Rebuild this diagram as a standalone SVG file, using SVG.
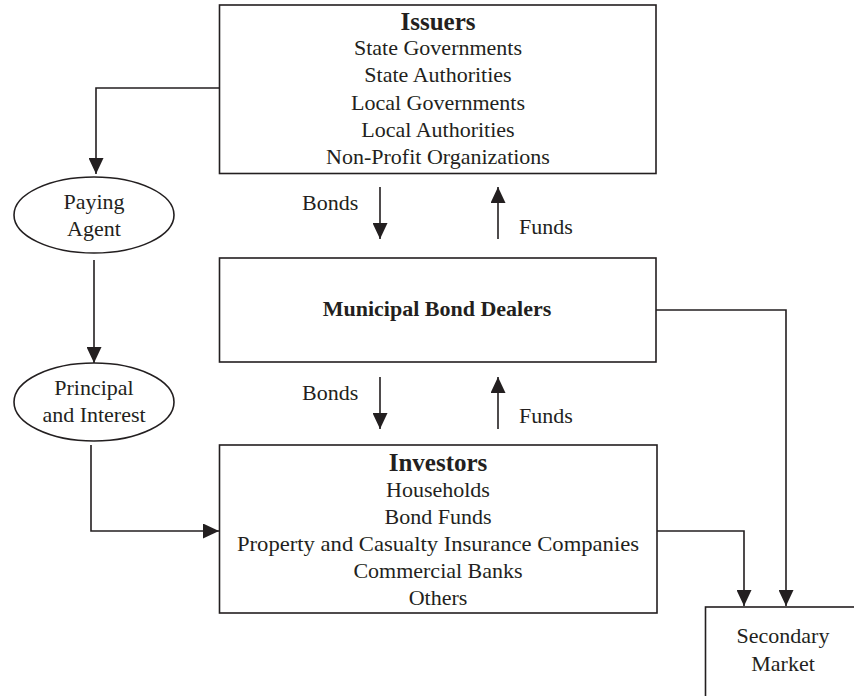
<svg xmlns="http://www.w3.org/2000/svg" width="854" height="696" viewBox="0 0 854 696">
<style>
  .box{fill:#fff;stroke:#231f20;stroke-width:1.6}
  .ln{fill:none;stroke:#231f20;stroke-width:1.6}
  text{font-family:"Liberation Serif","Times New Roman",serif;font-size:22px;fill:#231f20;text-anchor:middle}
  .b{font-weight:bold}
  .t{font-weight:bold;font-size:25px}
  .l{text-anchor:start}
</style>
<defs>
  <marker id="ah" viewBox="0 0 16 15" refX="16" refY="7.5" markerWidth="16" markerHeight="15" markerUnits="userSpaceOnUse" orient="auto">
    <path d="M0,0 L16,7.5 L0,15 Z" fill="#231f20"/>
  </marker>
</defs>
<rect width="854" height="696" fill="#fff"/>
<g id="connectors">
  <path class="ln" d="M219,88 H96 V174" marker-end="url(#ah)"/>
  <path class="ln" d="M94,260 V363" marker-end="url(#ah)"/>
  <path class="ln" d="M91,445 V531 H219" marker-end="url(#ah)"/>
  <path class="ln" d="M380,187 V239" marker-end="url(#ah)"/>
  <path class="ln" d="M498,239 V187" marker-end="url(#ah)"/>
  <path class="ln" d="M380,377 V429" marker-end="url(#ah)"/>
  <path class="ln" d="M498,429 V377" marker-end="url(#ah)"/>
  <path class="ln" d="M656,310 H786 V606" marker-end="url(#ah)"/>
  <path class="ln" d="M657,531 H744 V606" marker-end="url(#ah)"/>
  <text class="l" x="302" y="210">Bonds</text>
  <text class="l" x="519" y="234">Funds</text>
  <text class="l" x="302" y="400">Bonds</text>
  <text class="l" x="519" y="423">Funds</text>
</g>
<g id="issuers">
  <rect class="box" x="219.5" y="5" width="436.5" height="168.5"/>
  <text class="t" x="438" y="30">Issuers</text>
  <text x="438" y="55">State Governments</text>
  <text x="438" y="82">State Authorities</text>
  <text x="438" y="110">Local Governments</text>
  <text x="438" y="137">Local Authorities</text>
  <text x="438" y="164">Non-Profit Organizations</text>
</g>
<g id="paying-agent">
  <ellipse class="box" cx="94" cy="215" rx="80" ry="38"/>
  <text x="94" y="209">Paying</text>
  <text x="94" y="236">Agent</text>
</g>
<g id="dealers">
  <rect class="box" x="219.5" y="258" width="436.5" height="104"/>
  <text class="b" x="437" y="316">Municipal Bond Dealers</text>
</g>
<g id="principal-interest">
  <ellipse class="box" cx="94" cy="402" rx="80" ry="39"/>
  <text x="94" y="395">Principal</text>
  <text x="94" y="422">and Interest</text>
</g>
<g id="investors">
  <rect class="box" x="219.5" y="445" width="437.5" height="168"/>
  <text class="t" x="438" y="471">Investors</text>
  <text x="438" y="497">Households</text>
  <text x="438" y="524">Bond Funds</text>
  <text x="438" y="551" textLength="402" lengthAdjust="spacingAndGlyphs">Property and Casualty Insurance Companies</text>
  <text x="438" y="578">Commercial Banks</text>
  <text x="438" y="605">Others</text>
</g>
<g id="secondary-market">
  <rect class="box" x="705.5" y="607" width="170" height="120"/>
  <text x="783" y="643">Secondary</text>
  <text x="783" y="671">Market</text>
</g>
</svg>
